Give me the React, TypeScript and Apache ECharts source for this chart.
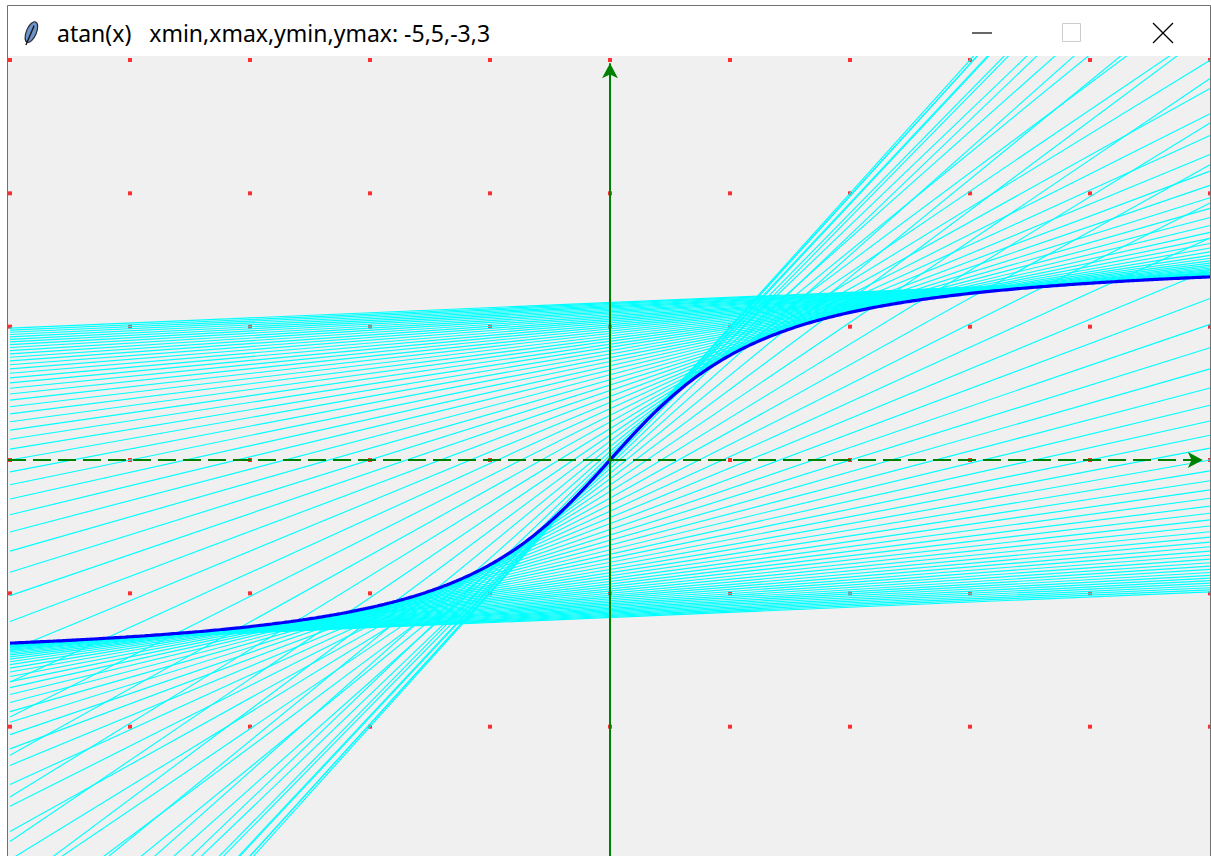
import React, { useEffect, useRef } from "react";
import * as echarts from "echarts";

// ---- chart content ----
const TITLE = "atan(x)   xmin,xmax,ymin,ymax: -5,5,-3,3";
const X_MIN = -5;
const X_MAX = 5;
const Y_MIN = -3;
const Y_MAX = 3;
// integer grid marks (red dots)
const GRID_XS = [-5, -4, -3, -2, -1, 0, 1, 2, 3, 4, 5];
const GRID_YS = [-3, -2, -1, 0, 1, 2, 3];
// tangent points along the curve: every 0.1 from xmin to xmax
const TANGENT_STEP = 0.1;
const CURVE_STEP = 0.02;

const f = (x: number) => Math.atan(x);
const df = (x: number) => 1 / (1 + x * x);

function buildTangentPoints(): number[] {
  const pts: number[] = [];
  const n = Math.round((X_MAX - X_MIN) / TANGENT_STEP);
  for (let i = 0; i <= n; i++) pts.push(+(X_MIN + i * TANGENT_STEP).toFixed(4));
  return pts;
}
function buildCurve(): number[][] {
  const pts: number[][] = [];
  const n = Math.round((X_MAX - X_MIN) / CURVE_STEP);
  for (let i = 0; i <= n; i++) {
    const x = X_MIN + i * CURVE_STEP;
    pts.push([x, f(x)]);
  }
  return pts;
}

export default function App() {
  const ref = useRef<HTMLDivElement>(null);
  useEffect(() => {
    if (!ref.current) return;
    const chart = echarts.init(ref.current, undefined, { renderer: "svg" });

    // canvas geometry (pixels): origin at (610,460), 120 px per x unit, 133.33 px per y unit
    const gridLeft = 8, gridTop = 56, gridW = 1202, gridH = 800;
    const ox = 610, oy = 460, sx = 120, sy = 800 / (Y_MAX - Y_MIN);
    const axXMin = (gridLeft - ox) / sx;
    const axXMax = (gridLeft + gridW - ox) / sx;
    const axYMax = (oy - gridTop) / sy;
    const axYMin = (oy - (gridTop + gridH)) / sy;

    const dots: number[][] = [];
    GRID_XS.forEach((x) => GRID_YS.forEach((y) => dots.push([x, y])));

    const tangentSeries = buildTangentPoints().map((x0) => ({
      type: "line",
      silent: true,
      symbol: "none",
      showSymbol: false,
      clip: true,
      z: 3,
      lineStyle: { color: "#00ffff", width: 1.15 },
      data: [
        [X_MIN, f(x0) + df(x0) * (X_MIN - x0)],
        [X_MAX, f(x0) + df(x0) * (X_MAX - x0)],
      ],
    }));

    const option: any = {
      animation: false,
      backgroundColor: "#ffffff",
      grid: {
        left: gridLeft,
        top: gridTop,
        width: gridW,
        height: gridH,
        show: true,
        backgroundColor: "#f0f0f0",
        borderWidth: 0,
      },
      xAxis: {
        type: "value",
        min: axXMin,
        max: axXMax,
        axisLine: { show: false },
        axisTick: { show: false },
        axisLabel: { show: false },
        splitLine: { show: false },
      },
      yAxis: {
        type: "value",
        min: axYMin,
        max: axYMax,
        axisLine: { show: false },
        axisTick: { show: false },
        axisLabel: { show: false },
        splitLine: { show: false },
      },
      series: [
        {
          type: "line",
          silent: true,
          z: 1,
          symbol: "none",
          lineStyle: { width: 0, opacity: 0 },
          data: [[0, 0]],
          markLine: {
            silent: true,
            animation: false,
            symbol: ["none", "arrow"],
            symbolSize: [12, 15],
            label: { show: false },
            emphasis: { disabled: true },
            data: [
              [
                { coord: [axXMin, 0], lineStyle: { color: "#008000", width: 2, type: [18, 7] } },
                { coord: [4.94, 0] },
              ],
              [
                { coord: [0, axYMin], lineStyle: { color: "#008000", width: 2, type: "solid" } },
                { coord: [0, 2.975] },
              ],
            ],
          },
        },
        {
          type: "scatter",
          silent: true,
          z: 2,
          symbol: "rect",
          symbolSize: 4,
          itemStyle: { color: "#ff0000" },
          data: dots,
        },
        ...tangentSeries,
        {
          type: "line",
          silent: true,
          z: 4,
          symbol: "none",
          showSymbol: false,
          smooth: false,
          lineStyle: { color: "#0000ff", width: 3.2 },
          data: buildCurve(),
        },
      ],
      graphic: [
        {
          type: "rect",
          z: 90,
          shape: { x: 7, y: 5, width: 1204, height: 51 },
          style: { fill: "#ffffff" },
        },
        {
          type: "text",
          z: 91,
          x: 57,
          y: 33,
          style: {
            text: TITLE,
            font: '23px "Noto Sans"',
            fill: "#000000",
            verticalAlign: "middle",
          },
        },
        {
          type: "ellipse",
          z: 92,
          x: 31,
          y: 33,
          rotation: -0.4,
          shape: { cx: 0, cy: -1, rx: 5, ry: 11 },
          style: { fill: "#6b93cc", stroke: "#2a2a2a", lineWidth: 1.2 },
        },
        {
          type: "line",
          z: 93,
          x: 31,
          y: 33,
          rotation: -0.4,
          shape: { x1: 0, y1: -8, x2: 0, y2: 13 },
          style: { stroke: "#1a1a1a", lineWidth: 1.4 },
        },
        {
          type: "line",
          z: 91,
          shape: { x1: 972, y1: 33, x2: 992, y2: 33 },
          style: { stroke: "#000000", lineWidth: 1.2 },
        },
        {
          type: "rect",
          z: 91,
          shape: { x: 1062.5, y: 23.5, width: 18, height: 18 },
          style: { fill: "none", stroke: "#cccccc", lineWidth: 1 },
        },
        {
          type: "line",
          z: 91,
          shape: { x1: 1153, y1: 23, x2: 1173, y2: 43 },
          style: { stroke: "#000000", lineWidth: 1.3 },
        },
        {
          type: "line",
          z: 91,
          shape: { x1: 1173, y1: 23, x2: 1153, y2: 43 },
          style: { stroke: "#000000", lineWidth: 1.3 },
        },
        {
          type: "rect",
          z: 100,
          shape: { x: 7.5, y: 5.5, width: 1203, height: 870 },
          style: { fill: "none", stroke: "#707070", lineWidth: 1 },
        },
      ],
    };
    chart.setOption(option);
    return () => chart.dispose();
  }, []);

  return (
    <div
      ref={ref}
      style={{ position: "absolute", left: 0, top: 0, width: 1211, height: 856, background: "#ffffff" }}
    />
  );
}
